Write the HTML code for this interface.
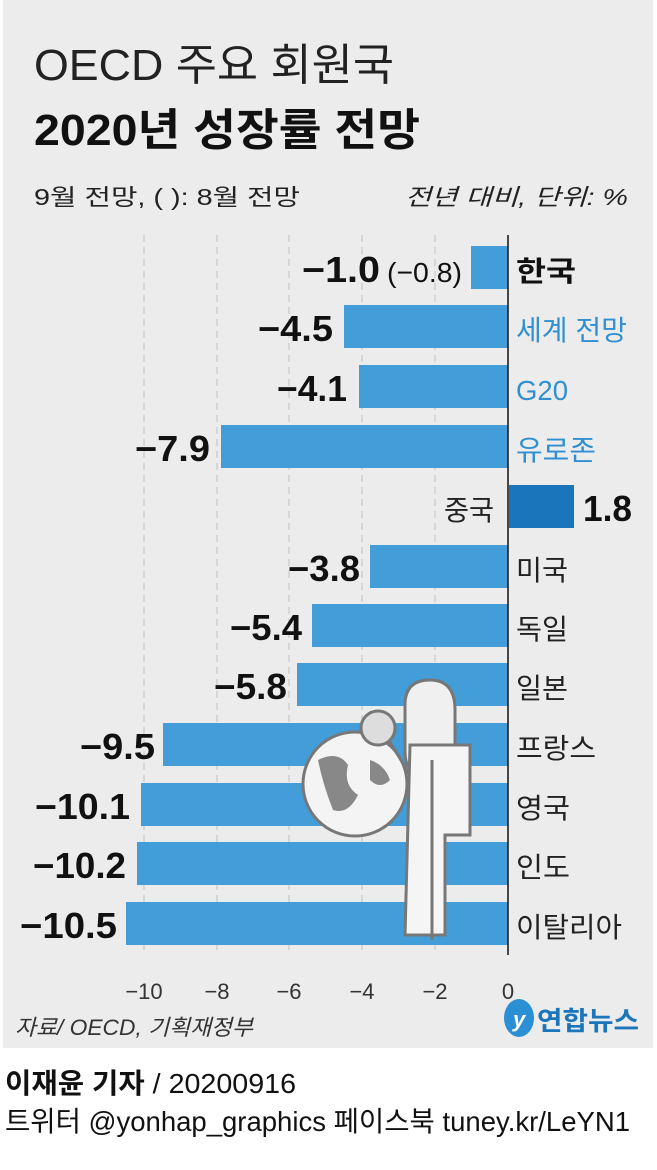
<!DOCTYPE html>
<html><head><meta charset="utf-8"><style>
html,body{margin:0;padding:0;background:#fff}
svg{display:block}
text{font-family:"Liberation Sans","Noto Sans CJK KR",sans-serif}
</style></head><body>
<svg width="657" height="1170" viewBox="0 0 657 1170" xmlns="http://www.w3.org/2000/svg">
<rect x="3" y="0" width="650" height="1048" fill="#ececec"/>
<text x="34" y="80" font-size="44" fill="#222" textLength="360" lengthAdjust="spacingAndGlyphs">OECD 주요 회원국</text>
<text x="34" y="145" font-size="44" fill="#111" font-weight="bold" textLength="386" lengthAdjust="spacingAndGlyphs">2020년 성장률 전망</text>
<text x="34" y="205" font-size="23" fill="#222" textLength="266" lengthAdjust="spacingAndGlyphs">9월 전망, (   ): 8월 전망</text>
<text x="405" y="205" font-size="23" fill="#222" font-style="italic" textLength="223" lengthAdjust="spacingAndGlyphs">전년 대비, 단위: %</text>
<g stroke="#c8c8c8" stroke-width="1.2" stroke-dasharray="7,5">
<line x1="144" y1="235" x2="144" y2="955"/><line x1="217" y1="235" x2="217" y2="955"/>
<line x1="289" y1="235" x2="289" y2="955"/><line x1="362" y1="235" x2="362" y2="955"/>
<line x1="435" y1="235" x2="435" y2="955"/>
</g>
<g fill="#429dd8">
<rect x="471" y="246" width="37" height="43"/>
<rect x="344" y="305" width="164" height="43"/>
<rect x="359" y="365" width="149" height="43"/>
<rect x="221" y="425" width="287" height="43"/>
<rect x="370" y="545" width="138" height="43"/>
<rect x="312" y="604" width="196" height="43"/>
<rect x="297" y="663" width="211" height="43"/>
<rect x="163" y="723" width="345" height="43"/>
<rect x="141" y="783" width="367" height="43"/>
<rect x="137" y="842" width="371" height="43"/>
<rect x="126" y="902" width="382" height="43"/>
</g>
<rect x="509" y="485" width="65" height="43" fill="#1a75bb"/>
<g fill="#fff" stroke="#777" stroke-width="3">
<circle cx="355" cy="784" r="52" fill="#f4f4f4"/>
<path d="M318 760 q20 -10 30 5 q-5 20 10 30 q-10 20 -25 15 q-10 -25 -15 -50z" fill="#888" stroke="none"/>
<path d="M370 760 q15 5 20 20 q-10 10 -20 0z" fill="#888" stroke="none"/>
<circle cx="378" cy="728" r="17" fill="#ddd"/>
<line x1="390" y1="742" x2="410" y2="775"/>
<path d="M405 705 q0 -25 25 -25 q25 0 25 30 v40 q0 20 -20 20 h-20 q-10 0 -10 -20z" fill="#f0f0f0"/>
<path d="M410 745 h60 v90 h-25 v100 h-40z" fill="#f5f5f5"/>
<line x1="432" y1="760" x2="432" y2="940"/>
</g>
<line x1="508" y1="235" x2="508" y2="955" stroke="#111" stroke-width="1.5"/>
<g font-size="36" font-weight="bold" fill="#111">
<text x="302" y="282" textLength="78" lengthAdjust="spacingAndGlyphs">−1.0</text>
<text x="387" y="282" font-size="28" font-weight="normal" textLength="75" lengthAdjust="spacingAndGlyphs">(−0.8)</text>
<text x="258" y="341" textLength="75" lengthAdjust="spacingAndGlyphs">−4.5</text>
<text x="277" y="401" textLength="70" lengthAdjust="spacingAndGlyphs">−4.1</text>
<text x="135" y="461" textLength="75" lengthAdjust="spacingAndGlyphs">−7.9</text>
<text x="288" y="581" textLength="72" lengthAdjust="spacingAndGlyphs">−3.8</text>
<text x="230" y="640" textLength="72" lengthAdjust="spacingAndGlyphs">−5.4</text>
<text x="214" y="699" textLength="73" lengthAdjust="spacingAndGlyphs">−5.8</text>
<text x="80" y="759" textLength="75" lengthAdjust="spacingAndGlyphs">−9.5</text>
<text x="35" y="819" textLength="95" lengthAdjust="spacingAndGlyphs">−10.1</text>
<text x="33" y="878" textLength="93" lengthAdjust="spacingAndGlyphs">−10.2</text>
<text x="20" y="938" textLength="97" lengthAdjust="spacingAndGlyphs">−10.5</text>
<text x="583" y="521" textLength="49" lengthAdjust="spacingAndGlyphs">1.8</text>
</g>
<g font-size="28" fill="#222">
<text x="516" y="281" font-weight="bold" fill="#111" textLength="60" lengthAdjust="spacingAndGlyphs">한국</text>
<text x="516" y="340" fill="#2f8fd0" textLength="111" lengthAdjust="spacingAndGlyphs">세계 전망</text>
<text x="516" y="400" fill="#2f8fd0" textLength="52" lengthAdjust="spacingAndGlyphs">G20</text>
<text x="516" y="460" fill="#2f8fd0" textLength="80" lengthAdjust="spacingAndGlyphs">유로존</text>
<text x="444" y="520" textLength="50" lengthAdjust="spacingAndGlyphs">중국</text>
<text x="516" y="580" textLength="52" lengthAdjust="spacingAndGlyphs">미국</text>
<text x="516" y="639" textLength="52" lengthAdjust="spacingAndGlyphs">독일</text>
<text x="516" y="698" textLength="52" lengthAdjust="spacingAndGlyphs">일본</text>
<text x="516" y="758" textLength="80" lengthAdjust="spacingAndGlyphs">프랑스</text>
<text x="516" y="818" textLength="54" lengthAdjust="spacingAndGlyphs">영국</text>
<text x="516" y="877" textLength="54" lengthAdjust="spacingAndGlyphs">인도</text>
<text x="516" y="937" textLength="106" lengthAdjust="spacingAndGlyphs">이탈리아</text>
</g>
<g font-size="22" fill="#333" text-anchor="middle">
<text x="144" y="999">−10</text><text x="217" y="999">−8</text><text x="289" y="999">−6</text>
<text x="362" y="999">−4</text><text x="435" y="999">−2</text><text x="508" y="999">0</text>
</g>
<text x="15" y="1035" font-size="22" font-style="italic" fill="#333" textLength="238" lengthAdjust="spacingAndGlyphs">자료/ OECD, 기획재정부</text>
<ellipse cx="519" cy="1018" rx="15" ry="19" fill="#2a8fd4"/>
<text x="513" y="1027" font-size="22" font-style="italic" font-weight="bold" fill="#fff">y</text>
<text x="537" y="1030" font-size="26" font-weight="bold" fill="#1a75bb" textLength="102" lengthAdjust="spacingAndGlyphs">연합뉴스</text>
<text x="5" y="1093" font-size="28" fill="#111" textLength="291" lengthAdjust="spacingAndGlyphs"><tspan font-weight="bold">이재윤 기자</tspan> / 20200916</text>
<text x="5" y="1131" font-size="28" fill="#111" textLength="625" lengthAdjust="spacingAndGlyphs">트위터 @yonhap_graphics  페이스북 tuney.kr/LeYN1</text>
</svg>
</body></html>
